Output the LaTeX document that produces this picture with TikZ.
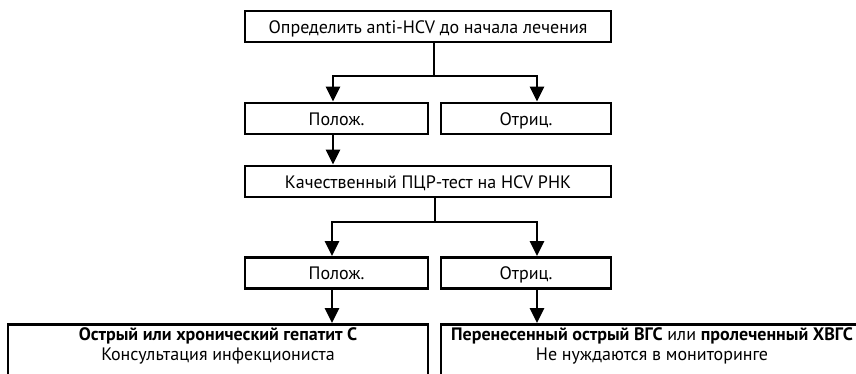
\documentclass[tikz,border=0pt]{standalone}
\usepackage{fontspec}
\setmainfont{PT Sans}
\usetikzlibrary{arrows.meta}

\begin{document}
\begin{tikzpicture}[x=1pt, y=-1pt]
          \tikzstyle{box}=[draw, line width=2.8pt, inner sep=0pt, minimum height=31pt, text height=13pt, text depth=0pt, font=\fontsize{18}{20}\selectfont, align=center]
          \tikzstyle{result}=[box, anchor=north, text height=36.5pt, text depth=20pt]
          \tikzstyle{link}=[line width=2.8pt]
          \tikzstyle{arrow}=[line width=2.8pt, -{Triangle[width=14pt, length=15pt]}]

          \useasboundingbox (0, 0) rectangle (856, 373);
          \clip (0, 0) rectangle (856, 373);

          \node (anti) at (428, 26.5) [box, minimum width=366pt] {Определить anti-HCV до начала лечения};
          \node (pos1) at (336.5, 118.5) [box, minimum width=183pt] {Полож.};
          \node (neg1) at (526, 118.5) [box, minimum width=170pt] {Отриц.};
          \node (pcr) at (428, 181.5) [box, minimum width=366pt] {Качественный ПЦР-тест на HCV РНК};
          \node (pos2) at (336.5, 273) [box, minimum width=183pt] {Полож.};
          \node (neg2) at (526, 273) [box, minimum width=170pt] {Отриц.};
          \node (chronic) at (218, 323) [result, minimum width=420pt] {\textbf{Острый или хронический гепатит С}\\Консультация инфекциониста};
          \node (cured) at (652, 323) [result, minimum width=422pt] {\textbf{Перенесенный острый ВГС} или \textbf{пролеченный ХВГС}\\Не нуждаются в мониторинге};

          \coordinate (split1) at (434, 76);
          \coordinate (left1) at (333, 76);
          \coordinate (right1) at (537, 76);
          \draw (anti.south -| split1) -- (split1) [link];
          \draw (split1) -| (pos1.north -| left1) [arrow];
          \draw (split1) -| (neg1.north -| right1) [arrow];

          \draw (pos1.south -| left1) -- (pcr.north -| left1) [arrow];

          \coordinate (split2) at (435, 222);
          \coordinate (left2) at (332, 222);
          \coordinate (right2) at (537, 222);
          \draw (pcr.south -| split2) -- (split2) [link];
          \draw (split2) -| (pos2.north -| left2) [arrow];
          \draw (split2) -| (neg2.north -| right2) [arrow];

          \draw (pos2.south -| left2) -- (chronic.north -| left2) [arrow];
          \draw (neg2.south -| right2) -- (cured.north -| right2) [arrow];
        \end{tikzpicture}
\end{document}
